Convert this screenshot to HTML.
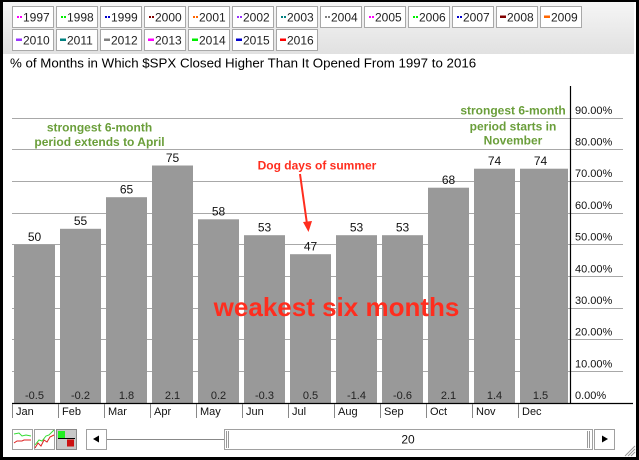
<!DOCTYPE html>
<html><head><meta charset="utf-8"><style>
html,body{margin:0;padding:0;background:#000;}
body{width:639px;height:460px;overflow:hidden;position:relative;font-family:"Liberation Sans",Arial,sans-serif;}
svg{position:absolute;left:0;top:0;}
</style></head><body>
<svg width="639" height="460" viewBox="0 0 639 460" xmlns="http://www.w3.org/2000/svg" font-family="Liberation Sans, Arial, sans-serif">
<defs>
<linearGradient id="lg" x1="0" y1="0" x2="0" y2="1"><stop offset="0" stop-color="#f5f5f5"/><stop offset="1" stop-color="#e1e1e1"/></linearGradient>
</defs>
<rect x="0" y="0" width="639" height="460" fill="#000"/>
<rect x="3" y="2" width="633" height="455" fill="#fff"/>
<rect x="3" y="2" width="631" height="52" fill="url(#lg)"/>

<!-- legend row 1 -->
<g font-size="12" fill="#222">
<g transform="translate(12,6)"><rect x="0.5" y="0.5" width="41" height="21" fill="#fff" stroke="#a8a8a8"/><rect x="5" y="10" width="2" height="2" fill="#ff00ff"/><rect x="8" y="10" width="2" height="2" fill="#ff00ff"/><text x="11" y="15.5">1997</text></g>
<g transform="translate(56,6)"><rect x="0.5" y="0.5" width="41" height="21" fill="#fff" stroke="#a8a8a8"/><rect x="5" y="10" width="2" height="2" fill="#00ee00"/><rect x="8" y="10" width="2" height="2" fill="#00ee00"/><text x="11" y="15.5">1998</text></g>
<g transform="translate(100,6)"><rect x="0.5" y="0.5" width="41" height="21" fill="#fff" stroke="#a8a8a8"/><rect x="5" y="10" width="2" height="2" fill="#0000cc"/><rect x="8" y="10" width="2" height="2" fill="#0000cc"/><text x="11" y="15.5">1999</text></g>
<g transform="translate(144,6)"><rect x="0.5" y="0.5" width="41" height="21" fill="#fff" stroke="#a8a8a8"/><rect x="5" y="10" width="2" height="2" fill="#800000"/><rect x="8" y="10" width="2" height="2" fill="#800000"/><text x="11" y="15.5">2000</text></g>
<g transform="translate(188,6)"><rect x="0.5" y="0.5" width="41" height="21" fill="#fff" stroke="#a8a8a8"/><rect x="5" y="10" width="2" height="2" fill="#ff6600"/><rect x="8" y="10" width="2" height="2" fill="#ff6600"/><text x="11" y="15.5">2001</text></g>
<g transform="translate(232,6)"><rect x="0.5" y="0.5" width="41" height="21" fill="#fff" stroke="#a8a8a8"/><rect x="5" y="10" width="2" height="2" fill="#9933ff"/><rect x="8" y="10" width="2" height="2" fill="#9933ff"/><text x="11" y="15.5">2002</text></g>
<g transform="translate(276,6)"><rect x="0.5" y="0.5" width="41" height="21" fill="#fff" stroke="#a8a8a8"/><rect x="5" y="10" width="2" height="2" fill="#008080"/><rect x="8" y="10" width="2" height="2" fill="#008080"/><text x="11" y="15.5">2003</text></g>
<g transform="translate(320,6)"><rect x="0.5" y="0.5" width="41" height="21" fill="#fff" stroke="#a8a8a8"/><rect x="5" y="10" width="2" height="2" fill="#808080"/><rect x="8" y="10" width="2" height="2" fill="#808080"/><text x="11" y="15.5">2004</text></g>
<g transform="translate(364,6)"><rect x="0.5" y="0.5" width="41" height="21" fill="#fff" stroke="#a8a8a8"/><rect x="5" y="10" width="2" height="2" fill="#ff00ff"/><rect x="8" y="10" width="2" height="2" fill="#ff00ff"/><text x="11" y="15.5">2005</text></g>
<g transform="translate(408,6)"><rect x="0.5" y="0.5" width="41" height="21" fill="#fff" stroke="#a8a8a8"/><rect x="5" y="10" width="2" height="2" fill="#00ee00"/><rect x="8" y="10" width="2" height="2" fill="#00ee00"/><text x="11" y="15.5">2006</text></g>
<g transform="translate(452,6)"><rect x="0.5" y="0.5" width="41" height="21" fill="#fff" stroke="#a8a8a8"/><rect x="5" y="10" width="2" height="2" fill="#0000cc"/><rect x="8" y="10" width="2" height="2" fill="#0000cc"/><text x="11" y="15.5">2007</text></g>
<g transform="translate(496,6)"><rect x="0.5" y="0.5" width="41" height="21" fill="#fff" stroke="#a8a8a8"/><rect x="4" y="9.5" width="6" height="2.5" fill="#800000"/><text x="11" y="15.5">2008</text></g>
<g transform="translate(540,6)"><rect x="0.5" y="0.5" width="41" height="21" fill="#fff" stroke="#a8a8a8"/><rect x="4" y="9.5" width="6" height="2.5" fill="#ff6600"/><text x="11" y="15.5">2009</text></g>
</g>
<!-- legend row 2 -->
<g font-size="12" fill="#222">
<g transform="translate(12,29)"><rect x="0.5" y="0.5" width="41" height="21" fill="#fff" stroke="#a8a8a8"/><rect x="4" y="9.5" width="6" height="2.5" fill="#9933ff"/><text x="11" y="15.5">2010</text></g>
<g transform="translate(56,29)"><rect x="0.5" y="0.5" width="41" height="21" fill="#fff" stroke="#a8a8a8"/><rect x="4" y="9.5" width="6" height="2.5" fill="#008080"/><text x="11" y="15.5">2011</text></g>
<g transform="translate(100,29)"><rect x="0.5" y="0.5" width="41" height="21" fill="#fff" stroke="#a8a8a8"/><rect x="4" y="9.5" width="6" height="2.5" fill="#808080"/><text x="11" y="15.5">2012</text></g>
<g transform="translate(144,29)"><rect x="0.5" y="0.5" width="41" height="21" fill="#fff" stroke="#a8a8a8"/><rect x="4" y="9.5" width="6" height="2.5" fill="#ff00ff"/><text x="11" y="15.5">2013</text></g>
<g transform="translate(188,29)"><rect x="0.5" y="0.5" width="41" height="21" fill="#fff" stroke="#a8a8a8"/><rect x="4" y="9.5" width="6" height="2.5" fill="#00ee00"/><text x="11" y="15.5">2014</text></g>
<g transform="translate(232,29)"><rect x="0.5" y="0.5" width="41" height="21" fill="#fff" stroke="#a8a8a8"/><rect x="4" y="9.5" width="6" height="2.5" fill="#0000cc"/><text x="11" y="15.5">2015</text></g>
<g transform="translate(276,29)"><rect x="0.5" y="0.5" width="41" height="21" fill="#fff" stroke="#a8a8a8"/><rect x="4" y="9.5" width="6" height="2.5" fill="#ff0000"/><text x="11" y="15.5">2016</text></g>
</g>

<!-- title -->
<text x="10" y="67.5" font-size="13.3" fill="#000">% of Months in Which $SPX Closed Higher Than It Opened From 1997 to 2016</text>

<!-- gridlines -->
<g stroke="#a8a8a8" stroke-width="1">
<line x1="12" y1="118.5" x2="623" y2="118.5"/>
<line x1="12" y1="149.5" x2="623" y2="149.5"/>
<line x1="12" y1="181.5" x2="623" y2="181.5"/>
<line x1="12" y1="213.5" x2="623" y2="213.5"/>
<line x1="12" y1="244.5" x2="623" y2="244.5"/>
<line x1="12" y1="276.5" x2="623" y2="276.5"/>
<line x1="12" y1="308.5" x2="623" y2="308.5"/>
<line x1="12" y1="339.5" x2="623" y2="339.5"/>
<line x1="12" y1="371.5" x2="623" y2="371.5"/>
</g>

<!-- bars -->
<g fill="#999999">
<rect x="14" y="244.7" width="41" height="158.3"/>
<rect x="60" y="228.8" width="41" height="174.2"/>
<rect x="106" y="197.2" width="41" height="205.8"/>
<rect x="152" y="165.5" width="41" height="237.5"/>
<rect x="198" y="219.3" width="41" height="183.7"/>
<rect x="244" y="235.2" width="41" height="167.8"/>
<rect x="290" y="254.2" width="41" height="148.8"/>
<rect x="336" y="235.2" width="41" height="167.8"/>
<rect x="382" y="235.2" width="41" height="167.8"/>
<rect x="428" y="187.7" width="41" height="215.3"/>
<rect x="474" y="168.7" width="41" height="234.3"/>
<rect x="520" y="168.7" width="48" height="234.3"/>
</g>

<!-- axes -->
<line x1="570.5" y1="86" x2="570.5" y2="403" stroke="#000" stroke-width="1.2"/>
<line x1="12" y1="403.5" x2="633" y2="403.5" stroke="#000" stroke-width="1.2"/>

<!-- top value labels -->
<g font-size="12" fill="#111" text-anchor="middle">
<text x="34.5" y="241">50</text>
<text x="80.5" y="225">55</text>
<text x="126.5" y="193.5">65</text>
<text x="172.5" y="162">75</text>
<text x="218.5" y="215.5">58</text>
<text x="264.5" y="231.5">53</text>
<text x="310.5" y="250.5">47</text>
<text x="356.5" y="231.5">53</text>
<text x="402.5" y="231.5">53</text>
<text x="448.5" y="184">68</text>
<text x="494.5" y="165">74</text>
<text x="540.5" y="165">74</text>
</g>

<!-- bottom values -->
<g font-size="11" fill="#222" text-anchor="middle">
<text x="34.5" y="399">-0.5</text>
<text x="80.5" y="399">-0.2</text>
<text x="126.5" y="399">1.8</text>
<text x="172.5" y="399">2.1</text>
<text x="218.5" y="399">0.2</text>
<text x="264.5" y="399">-0.3</text>
<text x="310.5" y="399">0.5</text>
<text x="356.5" y="399">-1.4</text>
<text x="402.5" y="399">-0.6</text>
<text x="448.5" y="399">2.1</text>
<text x="494.5" y="399">1.4</text>
<text x="540.5" y="399">1.5</text>
</g>

<!-- right axis labels -->
<g font-size="11" fill="#111">
<text x="575" y="114">90.00%</text>
<text x="575" y="145.5">80.00%</text>
<text x="575" y="177">70.00%</text>
<text x="575" y="209">60.00%</text>
<text x="575" y="240.5">50.00%</text>
<text x="575" y="272.5">40.00%</text>
<text x="575" y="304">30.00%</text>
<text x="575" y="335.5">20.00%</text>
<text x="575" y="367.5">10.00%</text>
<text x="575" y="399">0.00%</text>
</g>

<!-- month separators & labels -->
<g stroke="#888" stroke-width="1">
<line x1="12.5" y1="404" x2="12.5" y2="418"/>
<line x1="58.5" y1="404" x2="58.5" y2="418"/>
<line x1="104.5" y1="404" x2="104.5" y2="418"/>
<line x1="150.5" y1="404" x2="150.5" y2="418"/>
<line x1="196.5" y1="404" x2="196.5" y2="418"/>
<line x1="242.5" y1="404" x2="242.5" y2="418"/>
<line x1="288.5" y1="404" x2="288.5" y2="418"/>
<line x1="334.5" y1="404" x2="334.5" y2="418"/>
<line x1="380.5" y1="404" x2="380.5" y2="418"/>
<line x1="426.5" y1="404" x2="426.5" y2="418"/>
<line x1="472.5" y1="404" x2="472.5" y2="418"/>
<line x1="518.5" y1="404" x2="518.5" y2="418"/>
</g>
<g font-size="11" fill="#111">
<text x="16" y="415">Jan</text>
<text x="62" y="415">Feb</text>
<text x="108" y="415">Mar</text>
<text x="154" y="415">Apr</text>
<text x="200" y="415">May</text>
<text x="246" y="415">Jun</text>
<text x="292" y="415">Jul</text>
<text x="338" y="415">Aug</text>
<text x="384" y="415">Sep</text>
<text x="430" y="415">Oct</text>
<text x="476" y="415">Nov</text>
<text x="522" y="415">Dec</text>
</g>

<!-- annotations -->
<g font-size="12" font-weight="bold" fill="#6a9e3a" text-anchor="middle">
<text x="99.5" y="131.5">strongest 6-month</text>
<text x="99.5" y="146">period extends to April</text>
<text x="513" y="114.5">strongest 6-month</text>
<text x="513" y="130.5">period starts in</text>
<text x="513" y="144.5">November</text>
</g>
<text x="317" y="169.5" font-size="12" font-weight="bold" fill="#ff2d1e" text-anchor="middle">Dog days of summer</text>
<line x1="300" y1="174" x2="307" y2="224" stroke="#ff2d1e" stroke-width="2"/>
<polygon points="308.5,232 303,222 312,221" fill="#ff2d1e"/>
<text x="336.5" y="316" font-size="26" font-weight="bold" fill="#ff2d1e" text-anchor="middle">weakest six months</text>

<!-- bottom controls -->
<g>
<rect x="12.5" y="429.5" width="20" height="20" fill="#fff" stroke="#a0a0a0"/>
<polyline points="14,434 19,433 22,436 26,435 31,436" fill="none" stroke="#33dd33" stroke-width="1"/>
<polyline points="14,443 17,441 22,441 24,440 31,440" fill="none" stroke="#dd2222" stroke-width="1"/>
<rect x="34.5" y="429.5" width="20" height="20" fill="#fff" stroke="#a0a0a0"/>
<polyline points="35,445 39,440 42,441 46,436 49,435 54,430" fill="none" stroke="#33dd33" stroke-width="1"/>
<polyline points="35,448 38,443 41,446 44,440 47,442 50,437 54,435" fill="none" stroke="#dd2222" stroke-width="1"/>
<rect x="56.5" y="429.5" width="20" height="20" fill="#c8c8c8" stroke="#888"/>
<rect x="58" y="431" width="7" height="7" fill="#22ee22"/>
<line x1="58" y1="438.5" x2="75" y2="438.5" stroke="#000" stroke-width="1"/>
<rect x="67" y="439.5" width="7" height="7" fill="#cc1111"/>

<rect x="86.5" y="429.5" width="20" height="20" fill="#fff" stroke="#a0a0a0"/>
<polygon points="93,439 99,435.5 99,442.5" fill="#000"/>
<line x1="107" y1="439.5" x2="224" y2="439.5" stroke="#888" stroke-width="1"/>
<rect x="224.5" y="429.5" width="368" height="20" fill="#fff" stroke="#a0a0a0"/>
<line x1="226.5" y1="431" x2="226.5" y2="448" stroke="#999"/>
<line x1="228.5" y1="431" x2="228.5" y2="448" stroke="#999"/>
<line x1="587.5" y1="431" x2="587.5" y2="448" stroke="#999"/>
<line x1="589.5" y1="431" x2="589.5" y2="448" stroke="#999"/>
<text x="408" y="443.5" font-size="12" fill="#111" text-anchor="middle">20</text>
<rect x="594.5" y="429.5" width="20" height="20" fill="#fff" stroke="#a0a0a0"/>
<polygon points="608,439 602,435.5 602,442.5" fill="#000"/>
</g>

<!-- resize grip -->
<g stroke="#999" stroke-width="1">
<line x1="625" y1="456" x2="635" y2="446"/>
<line x1="628" y1="456" x2="635" y2="449"/>
<line x1="631" y1="456" x2="635" y2="452"/>
</g>
</svg>
</body></html>
